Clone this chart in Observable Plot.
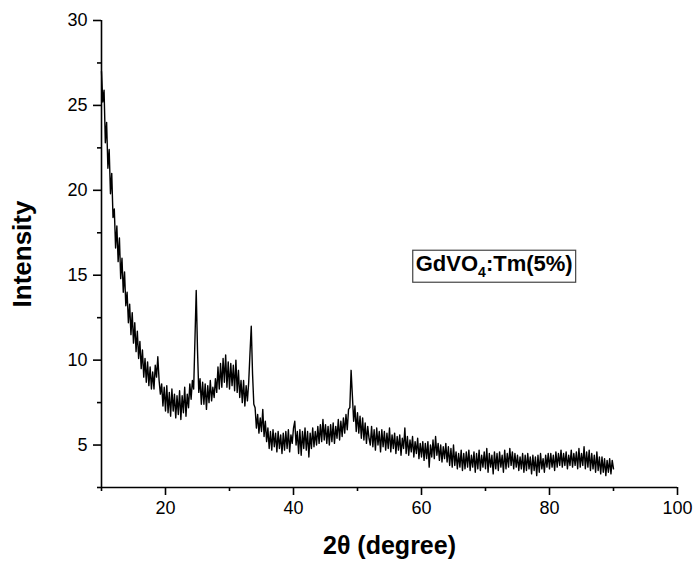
<!DOCTYPE html>
<html>
<head>
<meta charset="utf-8">
<script src="https://cdn.jsdelivr.net/npm/d3@7"></script>
<script src="https://cdn.jsdelivr.net/npm/@observablehq/plot@0.6"></script>
<style>
  html, body { margin: 0; padding: 0; background: #fff; }
  #chart { width: 693px; height: 562px; }
</style>
</head>
<body>
<div id="chart"></div>
<script>
// 2θ grid: start and step of the scan
const angleStart = 10;
const angleStep = 0.2;

// Intensity (one value per 0.2°, 10° … 90°)
const intensity = [
  27.0, 25.2, 25.9, 22.8, 24.0, 21.3, 22.4, 19.8, 21.0, 18.4,
  18.9, 16.6, 17.9, 15.8, 17.2, 14.8, 16.0, 14.0, 15.2, 13.2,
  14.0, 12.2, 13.3, 11.5, 12.8, 11.0, 12.2, 10.5, 11.7, 10.1,
  11.1, 9.5, 10.6, 9.0, 10.1, 8.7, 9.9, 8.5, 9.6, 8.3,
  9.3, 8.3, 9.7, 9.0, 10.2, 8.8, 8.0, 8.6, 7.3, 8.4,
  7.0, 8.5, 6.9, 8.1, 6.7, 8.3, 7.0, 8.0, 6.6, 7.9,
  6.8, 8.2, 6.5, 7.9, 6.9, 8.4, 6.7, 8.0, 7.2, 8.6,
  7.7, 8.8, 8.3, 11.2, 14.1, 10.6, 8.1, 8.9, 7.4, 8.7,
  7.4, 8.6, 7.1, 8.5, 7.5, 8.8, 7.6, 8.4, 7.8, 8.9,
  8.1, 9.6, 8.3, 9.8, 8.4, 10.1, 8.7, 10.3, 8.4, 9.9,
  8.3, 9.8, 8.5, 9.7, 8.2, 10.0, 8.1, 9.4, 7.8, 8.8,
  7.5, 8.8, 7.3, 8.5, 7.6, 8.7, 10.4, 12.0, 9.2, 7.4,
  7.2, 6.0, 6.8, 5.7, 6.6, 5.8, 7.1, 5.5, 6.4, 5.2,
  6.0, 4.8, 5.8, 4.7, 5.9, 4.9, 5.7, 4.6, 5.8, 4.8,
  5.6, 4.5, 5.7, 4.7, 5.8, 4.8, 5.9, 4.6, 5.6, 5.1,
  6.0, 6.4, 5.0, 5.8, 4.5, 5.9, 4.4, 5.8, 4.8, 6.0,
  4.7, 5.8, 4.3, 5.7, 4.8, 6.0, 4.9, 5.8, 5.0, 6.1,
  5.1, 6.2, 5.2, 6.5, 5.3, 6.2, 5.1, 6.1, 5.0, 6.2,
  5.2, 6.3, 5.1, 6.1, 5.4, 6.5, 5.3, 6.4, 5.5, 6.6,
  5.7, 6.8, 5.9, 7.1, 7.2, 9.4, 7.9, 6.4, 7.3, 5.8,
  6.9, 5.7, 6.7, 5.4, 6.6, 5.3, 6.3, 5.1, 6.1, 5.4,
  5.0, 6.1, 4.9, 5.9, 4.7, 6.0, 5.0, 5.8, 4.6, 5.9,
  4.9, 5.8, 4.7, 5.7, 4.8, 6.0, 4.6, 5.6, 4.8, 5.7,
  4.5, 5.5, 4.7, 5.6, 4.4, 5.4, 4.8, 6.0, 4.5, 5.5,
  4.4, 5.3, 4.6, 5.5, 4.3, 5.2, 4.5, 5.4, 4.2, 5.1,
  4.3, 5.2, 4.1, 5.1, 4.2, 5.2, 3.7, 5.0, 4.3, 5.3,
  4.2, 5.5, 4.4, 5.1, 4.1, 5.0, 4.0, 4.9, 4.2, 5.1,
  4.0, 4.9, 3.8, 4.8, 3.7, 5.0, 3.8, 4.6, 3.6, 4.5,
  3.7, 4.7, 3.5, 4.5, 3.6, 4.6, 3.7, 4.7, 3.5, 4.4,
  3.7, 4.6, 3.4, 4.5, 3.6, 4.7, 3.5, 4.4, 3.7, 4.6,
  3.6, 4.8, 3.4, 4.5, 3.7, 4.4, 3.3, 4.6, 3.6, 4.5,
  3.5, 4.6, 3.7, 4.4, 3.4, 4.7, 3.6, 4.5, 3.7, 4.8,
  3.8, 4.6, 3.6, 4.5, 3.7, 4.4, 3.5, 4.3, 3.6, 4.5,
  3.4, 4.4, 3.5, 4.5, 3.6, 4.3, 3.3, 4.4, 3.5, 4.3,
  3.2, 4.4, 3.4, 4.5, 3.6, 4.2, 3.4, 4.4, 3.7, 4.5,
  3.6, 4.5, 3.7, 4.4, 3.5, 4.6, 3.7, 4.5, 3.8, 4.7,
  3.7, 4.5, 3.8, 4.6, 3.6, 4.4, 3.8, 4.7, 3.7, 4.5,
  3.8, 4.6, 3.6, 4.8, 3.7, 4.5, 3.8, 4.9, 3.6, 4.6,
  3.7, 4.7, 3.5, 4.5, 3.6, 4.4, 3.4, 4.6, 3.5, 4.3,
  3.3, 4.3, 3.4, 4.2, 3.2, 4.1, 3.4, 4.2, 3.3, 4.1,
  3.6
];

// Axis ticks
const xMajorTicks = [20, 40, 60, 80, 100];
const xMinorTicks = [10, 30, 50, 70, 90];
const yMajorTicks = [5, 10, 15, 20, 25, 30];
const yMinorTicks = [2.5, 7.5, 12.5, 17.5, 22.5, 27.5];
const xDomain = [10, 100];
const yDomain = [2.5, 30];

// Texts
const xTitle = "2θ (degree)";
const yTitle = "Intensity";
const sampleLabel = { main: "GdVO", sub: "4", rest: ":Tm(5%)", angle: 59.1, value: 15.65 };

const data = intensity.map((v, i) => ({
  angle: +(angleStart + i * angleStep).toFixed(2),
  intensity: v
}));

const font = "'Liberation Sans', Arial, Helvetica, sans-serif";

const chart = Plot.plot({
  width: 693,
  height: 562,
  marginLeft: 101,
  marginRight: 16,
  marginTop: 20,
  marginBottom: 75,
  style: { fontFamily: font, background: "#fff", color: "#000", overflow: "visible" },
  x: { domain: xDomain, axis: null, label: null },
  y: { domain: yDomain, axis: null, label: null },
  marks: [
    Plot.line(data, { x: "angle", y: "intensity", stroke: "#000", strokeWidth: 1.4 }),
    Plot.axisX({ ticks: xMajorTicks, tickSize: 8, tickPadding: 6, fontSize: 18, strokeWidth: 1.6, label: null, tickFormat: d => String(d), fill: "#000" }),
    Plot.axisX({ ticks: xMinorTicks, tickSize: 4, strokeWidth: 1.6, label: null, tickFormat: () => "" }),
    Plot.axisY({ ticks: yMajorTicks, tickSize: 8, tickPadding: 6, fontSize: 18, strokeWidth: 1.6, label: null, tickFormat: d => String(d), fill: "#000" }),
    Plot.axisY({ ticks: yMinorTicks, tickSize: 4, strokeWidth: 1.6, label: null, tickFormat: () => "" }),
    Plot.ruleX([xDomain[0]], { stroke: "#000", strokeWidth: 1.6 }),
    Plot.ruleY([yDomain[0]], { stroke: "#000", strokeWidth: 1.6 }),
    Plot.text([sampleLabel], {
      x: "angle", y: "value", text: d => d.main + d.sub + d.rest,
      textAnchor: "start", lineAnchor: "middle", fontSize: 22, fontWeight: "bold", fill: "#000"
    }),
    Plot.text([xTitle], { text: d => d, frameAnchor: "bottom", dy: 58, lineAnchor: "middle", textAnchor: "middle", fontSize: 25, fontWeight: "bold", fill: "#000" }),
    Plot.text([yTitle], { text: d => d, frameAnchor: "left", dx: -79, rotate: -90, textAnchor: "middle", lineAnchor: "middle", fontSize: 26, fontWeight: "bold", fill: "#000" })
  ]
});

document.getElementById("chart").appendChild(chart);

// Subscript + box around the sample label
const full = sampleLabel.main + sampleLabel.sub + sampleLabel.rest;
d3.select(chart).selectAll("text").each(function () {
  if (this.textContent !== full) return;
  const t = d3.select(this);
  t.text(null);
  t.append("tspan").text(sampleLabel.main);
  t.append("tspan").attr("dy", "6px").attr("font-size", "14px").text(sampleLabel.sub);
  t.append("tspan").attr("dy", "-6px").text(sampleLabel.rest);
  const bb = this.getBBox();
  d3.select(this.parentNode).insert("rect", () => this)
    .attr("transform", this.getAttribute("transform"))
    .attr("x", bb.x - 3).attr("y", bb.y - 1)
    .attr("width", bb.width + 6).attr("height", bb.height + 3)
    .attr("fill", "#fff").attr("stroke", "#444").attr("stroke-width", 1.2);
});
</script>
</body>
</html>
